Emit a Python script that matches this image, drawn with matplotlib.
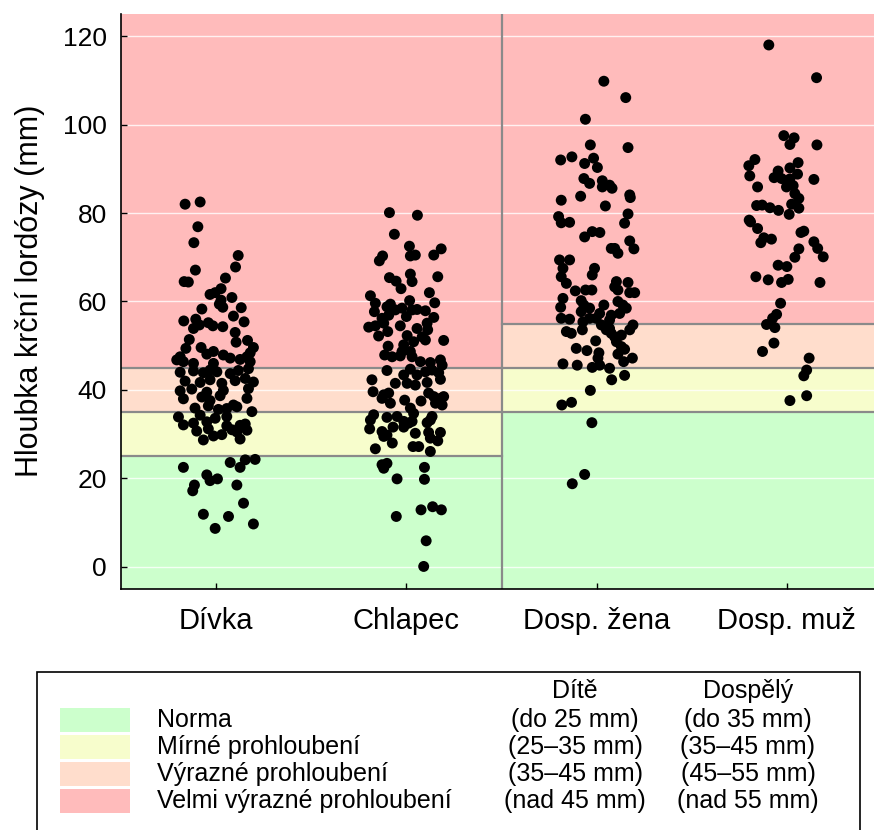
import matplotlib
matplotlib.use("Agg")
import matplotlib.pyplot as plt
from matplotlib.patches import Rectangle

plt.rcParams['font.family'] = ['Liberation Sans', 'DejaVu Sans']

# ---- data -------------------------------------------------------------
categories = ["Dívka", "Chlapec", "Dosp. žena", "Dosp. muž"]

# horizontal jitter (in category units) and measured values (mm)
divka_off = [-0.163, -0.084, -0.096, -0.117, 0.116, 0.102, -0.109, 0.049, -0.168, -0.146,
             0.026, -0.005, -0.032, 0.083, 0.026, 0.017, 0.035, -0.075, 0.132, 0.091,
             -0.170, -0.107, -0.088, -0.119, -0.041, -0.017, 0.035, 0.147, 0.100, 0.105,
             -0.141, 0.165, -0.079, -0.159, 0.196, 0.179, -0.014, -0.049, 0.038, -0.189,
             -0.207, -0.172, 0.074, 0.126, 0.162, 0.179, -0.119, -0.014,
             -0.189, -0.119, -0.067, -0.032, 0.004, 0.074, 0.117, 0.170,
             -0.163, -0.084, -0.032, 0.030, 0.100, 0.153, 0.196,
             -0.189, -0.128, -0.049, 0.038, 0.170,
             -0.172, -0.075, -0.032, 0.021, 0.109, 0.162,
             -0.111, -0.041, 0.012, 0.056, 0.091, 0.188,
             -0.198, -0.084, -0.005, 0.056,
             -0.172, -0.119, -0.049, 0.056, 0.153,
             -0.102, -0.041, 0.083, 0.109, 0.162, 0.126,
             -0.067, -0.014, 0.030, 0.126,
             -0.172, 0.074, 0.153, 0.205, 0.126, -0.049, -0.032, 0.007, -0.114, -0.123,
             0.109, 0.144, -0.067, 0.065, 0.196, -0.005]
divka_val = [82.0, 82.5, 76.9, 73.3, 70.4, 67.8, 67.1, 65.3, 64.5, 64.4,
             62.9, 62.0, 61.6, 60.9, 60.3, 59.4, 58.7, 58.3, 58.6, 56.7,
             55.6, 56.0, 54.7, 53.9, 55.2, 54.5, 54.3, 55.4, 53.0, 50.8,
             51.4, 51.2, 49.6, 49.4, 49.6, 48.4, 48.7, 48.1, 47.9, 47.5,
             46.8, 46.4, 47.2, 46.9, 47.5, 46.4, 46.0, 46.0,
             44.0, 44.3, 43.9, 44.5, 44.1, 43.7, 44.4, 44.8,
             42.0, 41.7, 42.3, 41.5, 42.1, 42.6, 41.8,
             39.8, 40.2, 39.5, 39.9, 40.3,
             38.0, 38.4, 37.6, 38.7, 36.2, 38.1,
             35.9, 36.4, 35.6, 35.8, 36.6, 35.1,
             33.9, 34.3, 33.6, 34.0,
             32.1, 32.5, 32.8, 31.9, 32.3,
             30.7, 31.2, 31.0, 30.5, 30.9, 32.0,
             28.7, 29.6, 29.9, 28.9,
             22.5, 23.6, 24.2, 24.3, 22.5, 20.8, 19.5, 19.9, 18.5, 17.2,
             18.5, 14.4, 11.9, 11.4, 9.7, 8.7]

chlapec_off = [-0.089, 0.058, -0.063, 0.016, 0.183, -0.125, -0.142, 0.021, 0.047, 0.144,
               -0.089, -0.054, 0.021, 0.030, 0.165, -0.028, 0.121, -0.189, 0.017, 0.149,
               -0.163, -0.102, -0.084, -0.058, -0.023, 0.030, 0.056, 0.100, -0.168, 0.000,
               0.144, -0.128, -0.093, -0.198, -0.163, -0.119, -0.032, 0.109, 0.112, -0.146,
               -0.098, 0.056, 0.004, -0.014, 0.038, 0.083, 0.100, 0.196, -0.096, -0.023,
               0.021, 0.030, -0.114, -0.075, -0.032, 0.074, 0.126, 0.179, 0.188, -0.102,
               -0.014, 0.021, 0.056, 0.100, 0.135, -0.181,
               0.170, 0.179, -0.058, 0.004, 0.047, 0.109, -0.175, -0.119, -0.093, -0.128,
               -0.084, -0.009, 0.077, 0.117, 0.144, 0.179, 0.196, 0.153, 0.188, 0.021,
               0.038, -0.172, -0.189, -0.102, -0.049, 0.126, 0.135, 0.109, -0.014, 0.012,
               0.030, -0.193, -0.070, -0.014, -0.128, -0.119, -0.102, 0.047, 0.117, 0.179,
               0.126, 0.165, -0.074, 0.035, 0.065, -0.163, 0.126,
               -0.128, -0.102, -0.119, 0.095, 0.095, -0.049, 0.077, 0.138, 0.184, -0.053,
               0.104, 0.091]
chlapec_val = [80.1, 79.5, 75.2, 72.5, 71.9, 70.3, 69.2, 70.3, 70.5, 70.5,
               65.4, 64.6, 66.2, 64.5, 65.6, 62.9, 62.0, 61.3, 60.2, 59.7,
               59.6, 58.8, 59.4, 58.1, 58.5, 58.1, 58.2, 57.9, 57.7, 56.6,
               56.4, 56.2, 56.9, 54.2, 54.5, 55.1, 54.5, 55.1, 53.6, 52.2,
               53.2, 53.9, 52.3, 50.2, 50.9, 52.0, 51.3, 51.2, 49.9, 48.7,
               48.7, 47.5, 47.9, 47.5, 47.7, 46.4, 46.2, 46.8, 45.6, 44.4,
               43.4, 44.7, 43.4, 44.1, 44.5, 42.3,
               43.9, 42.4, 41.5, 41.5, 41.1, 41.7, 39.6, 38.9, 39.3, 38.1,
               37.0, 37.7, 37.5, 39.3, 38.5, 38.1, 38.5, 37.0, 36.6, 35.9,
               34.7, 34.4, 33.2, 33.8, 34.0, 33.2, 34.0, 32.6, 32.9, 32.5,
               32.9, 31.2, 31.6, 31.6, 30.6, 29.5, 29.8, 30.2, 30.4, 30.4,
               29.1, 28.5, 28.0, 27.2, 27.2, 26.7, 26.1,
               23.1, 23.4, 22.3, 22.5, 19.8, 19.9, 12.9, 13.6, 12.9, 11.4,
               5.9, 0.1]

zena_off = [0.038, 0.153, -0.059, -0.033, 0.165, -0.189, -0.130, -0.063, -0.016, 0.004,
            -0.067, -0.037, 0.030, 0.030, 0.068, 0.081, 0.174, 0.177, -0.186, -0.084,
            0.046, 0.165, -0.200, -0.186, -0.142, 0.147, -0.063, -0.023, 0.017, 0.174,
            0.077, 0.095, 0.112, 0.196, -0.195, -0.142, -0.177, -0.186, -0.159, -0.011,
            -0.023, 0.104, 0.095, 0.165, -0.112, -0.058, -0.025, 0.112, 0.174, 0.200,
            -0.177, -0.189, -0.081, -0.067, -0.081, -0.037, 0.038, 0.016, -0.002, 0.112,
            0.138, 0.156, 0.121, 0.077, 0.068, -0.186, -0.142, -0.072, -0.037, 0.025,
            0.051, 0.068, 0.077, 0.095, 0.191, 0.174, -0.159, -0.133, -0.075, 0.130,
            -0.005, 0.104, 0.130, 0.147, -0.107, -0.051, 0.012, 0.007, 0.112, 0.188,
            0.142, -0.177, -0.102, -0.023, 0.016, 0.068, 0.079, 0.147, -0.033, -0.183,
            -0.132, -0.025, -0.063, -0.128]
zena_val = [109.8, 106.1, 101.2, 95.4, 94.8, 92.0, 92.7, 91.2, 92.4, 90.3,
            87.8, 86.7, 87.3, 85.9, 86.3, 85.6, 84.1, 83.5, 82.9, 83.8,
            81.6, 79.8, 79.2, 77.8, 77.9, 77.7, 74.6, 75.8, 75.6, 73.7,
            72.0, 72.0, 70.9, 71.9, 69.4, 69.4, 67.5, 65.6, 64.1, 67.5,
            66.0, 64.5, 63.3, 64.3, 62.4, 62.6, 62.6, 62.6, 62.0, 62.0,
            60.7, 58.7, 60.2, 59.2, 57.7, 58.5, 59.2, 57.3, 56.2, 60.0,
            59.2, 58.5, 57.3, 56.9, 55.8, 56.2, 56.0, 55.4, 56.2, 54.7,
            53.6, 53.9, 52.8, 52.0, 54.7, 53.6, 53.2, 52.8, 53.6, 52.4,
            51.1, 50.9, 49.8, 49.2, 49.4, 48.9, 48.4, 47.2, 48.1, 47.2,
            46.4, 45.9, 45.6, 45.1, 45.6, 44.9, 42.3, 43.3, 39.9, 36.6,
            37.2, 32.6, 20.9, 18.8]

muz_off = [-0.095, 0.156, -0.016, 0.038, 0.016, 0.158, -0.168, -0.200, -0.195, 0.059,
           0.016, 0.056, -0.046, -0.067, -0.028, 0.016, -0.002, 0.033, 0.142, -0.154,
           0.042, 0.063, -0.159, -0.130, -0.089, -0.044, 0.025, 0.063, 0.012, -0.198,
           -0.191, -0.154, 0.074, 0.089, -0.121, -0.081, -0.137, 0.142, 0.162, 0.191,
           0.063, 0.042, -0.046, 0.000, -0.163, -0.098, -0.028, 0.007, 0.174, -0.033,
           -0.054, -0.075, -0.107, -0.063, -0.068, -0.128, 0.117, 0.104, 0.089, 0.104,
           0.016]
muz_val = [118.0, 110.6, 97.5, 97.0, 95.5, 95.4, 92.1, 90.7, 88.4, 91.4,
           90.2, 88.8, 89.5, 88.0, 87.8, 87.7, 85.9, 86.2, 87.6, 85.9,
           84.4, 83.3, 81.7, 81.8, 81.2, 80.6, 82.0, 81.1, 79.7, 78.4,
           78.0, 76.5, 75.6, 75.9, 74.4, 74.1, 73.3, 73.5, 72.0, 70.1,
           71.9, 70.0, 68.2, 67.9, 65.6, 64.9, 64.3, 65.0, 64.3, 59.6,
           57.1, 56.2, 54.8, 54.1, 50.6, 48.7, 47.2, 44.5, 43.2, 38.7,
           37.6]

groups = [(divka_off, divka_val), (chlapec_off, chlapec_val),
          (zena_off, zena_val), (muz_off, muz_val)]

# classification thresholds (mm)
child_limits = [25, 35, 45]
adult_limits = [35, 45, 55]

band_colors = ["#ccffcc", "#f7fdcc", "#ffddcc", "#ffbbbb"]
band_names = ["Norma", "Mírné prohloubení", "Výrazné prohloubení", "Velmi výrazné prohloubení"]
child_ranges = ["(do 25 mm)", "(25–35 mm)", "(35–45 mm)", "(nad 45 mm)"]
adult_ranges = ["(do 35 mm)", "(35–45 mm)", "(45–55 mm)", "(nad 55 mm)"]

yticks = [0, 20, 40, 60, 80, 100, 120]

# ---- figure -----------------------------------------------------------
W, H = 874, 830
fig = plt.figure(figsize=(W / 100, H / 100), dpi=100)
ax = fig.add_axes([121 / W, (H - 589) / H, (882 - 121) / W, (589 - 14) / H])

ylo, yhi = -5, 125
xlo, xhi = 0.5, 4.5
ax.set_xlim(xlo, xhi)
ax.set_ylim(ylo, yhi)


def draw_bands(x0, x1, limits):
    edges = [ylo] + limits + [yhi]
    for i, c in enumerate(band_colors):
        ax.add_patch(Rectangle((x0, edges[i]), x1 - x0, edges[i + 1] - edges[i],
                               facecolor=c, edgecolor="none", zorder=0))


draw_bands(xlo, 2.5, child_limits)
draw_bands(2.5, xhi, adult_limits)

for y in yticks:
    ax.axhline(y, color="white", lw=1.0, alpha=0.8, zorder=1)

line_kw = dict(color="#8a8a8a", lw=1.6, zorder=2)
for y in child_limits:
    ax.plot([xlo, 2.5], [y, y], **line_kw)
for y in adult_limits:
    ax.plot([2.5, xhi], [y, y], **line_kw)
ax.axvline(2.5, **line_kw)

for i, (off, val) in enumerate(groups):
    xs = [i + 1 + o for o in off]
    ax.scatter(xs, val, s=62, color="black", edgecolors="none", zorder=3)

ax.set_xticks(range(1, len(categories) + 1))
ax.set_xticklabels(categories)
ax.set_yticks(yticks)
ax.tick_params(axis="both", direction="in", length=4, width=1)
ax.tick_params(axis="x", pad=13, labelsize=21)
ax.tick_params(axis="y", pad=10, labelsize=19)
for side in ("top", "right"):
    ax.spines[side].set_visible(False)
for side in ("left", "bottom"):
    ax.spines[side].set_linewidth(1.2)
ax.set_ylabel("Hloubka krční lordózy (mm)", fontsize=22)
ax.yaxis.label.set_verticalalignment("center")
ax.yaxis.set_label_coords((30 - 121) / 761, (589 - 291) / 575)

# ---- legend table -----------------------------------------------------
ft = fig.transFigure


def fx(px):
    return px / W


def fy(py):
    return 1 - py / H


fig.patches.append(Rectangle((fx(37), fy(860)), fx(860) - fx(37), fy(672) - fy(860),
                             transform=ft, facecolor="white", edgecolor="black", lw=1.2))
fs = 18
fig.text(fx(575), fy(691), "Dítě", ha="center", va="center", fontsize=fs)
fig.text(fx(748), fy(691), "Dospělý", ha="center", va="center", fontsize=fs)
row_y = [720, 747, 774, 801]
for i in range(4):
    y = row_y[i]
    fig.patches.append(Rectangle((fx(60), fy(y + 12)), fx(130) - fx(60), fy(y - 12) - fy(y + 12),
                                 transform=ft, facecolor=band_colors[i], edgecolor="none"))
    fig.text(fx(157), fy(y), band_names[i], ha="left", va="center", fontsize=fs)
    fig.text(fx(575), fy(y), child_ranges[i], ha="center", va="center", fontsize=fs)
    fig.text(fx(748), fy(y), adult_ranges[i], ha="center", va="center", fontsize=fs)

fig.savefig("out.png", dpi=100)
